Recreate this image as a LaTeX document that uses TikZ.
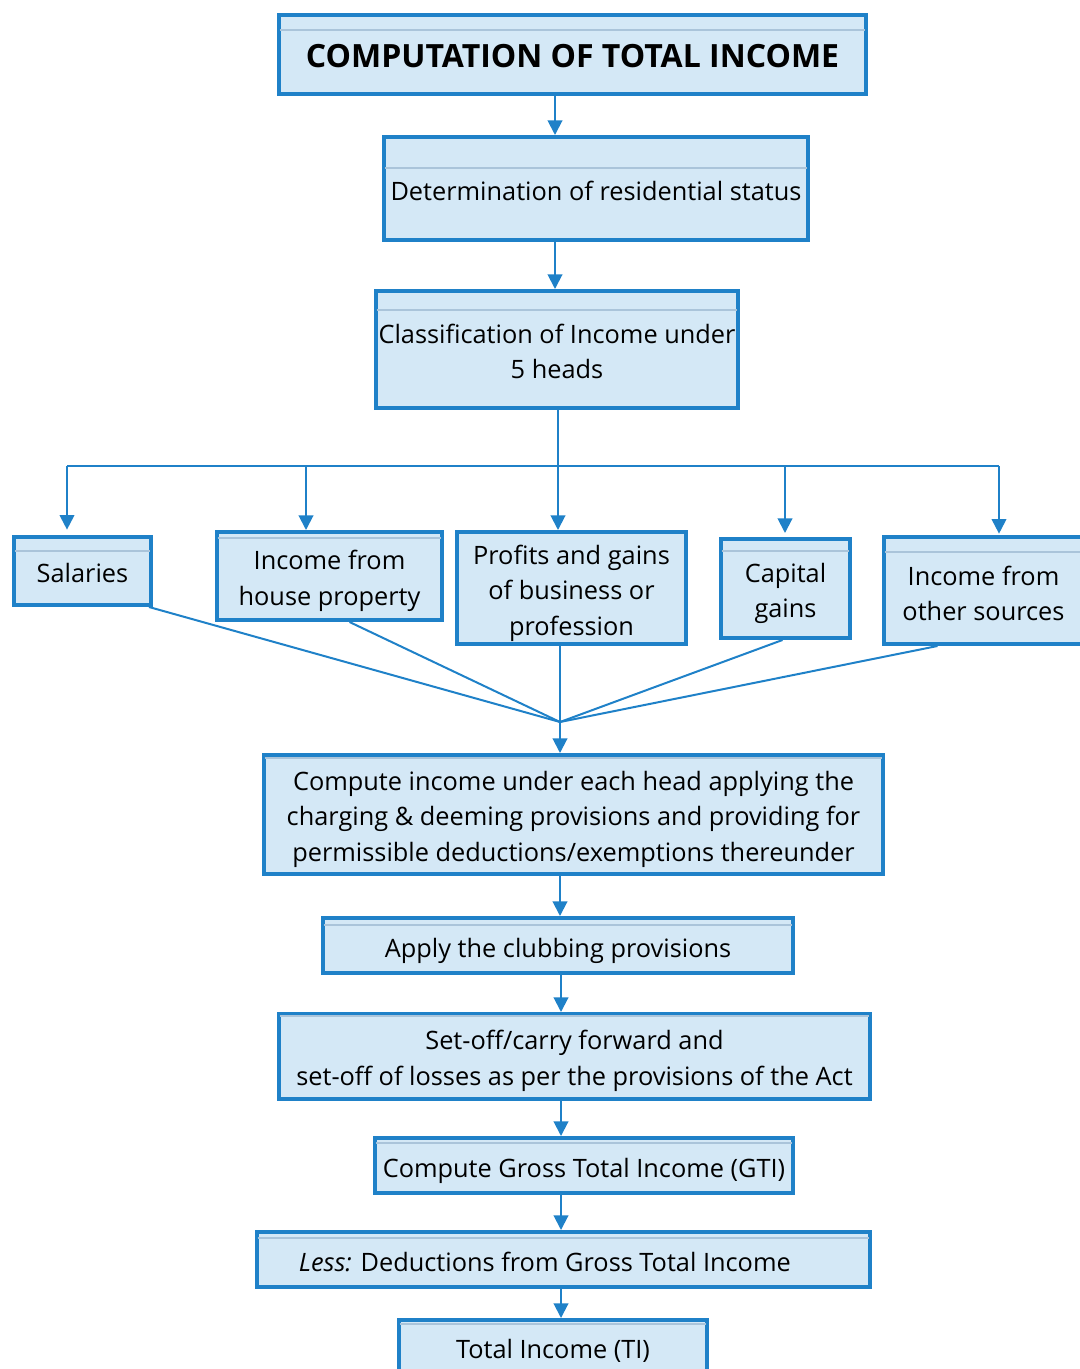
\documentclass[tikz,border=0pt]{standalone}
\usepackage{fontspec}
\setmainfont{Open Sans}
\usetikzlibrary{arrows.meta,calc}
\definecolor{bd}{RGB}{31,129,200}
\definecolor{fl}{RGB}{212,232,246}
\definecolor{il}{RGB}{170,196,218}
\newcommand\inl[2]{\draw[il,line width=0.8pt] ([xshift=2pt,yshift=-#2*0.75pt]#1.north west) -- ([xshift=-2pt,yshift=-#2*0.75pt]#1.north east);}
\begin{document}
\begin{tikzpicture}[x=0.75pt,y=-0.75pt,
 box/.style 2 args={draw=bd, fill=fl, line width=3pt, minimum width=#1*0.75pt, minimum height=#2*0.75pt, inner sep=0pt},
 txt/.style={align=center, inner sep=0pt, font=\fontsize{19}{26.6}\selectfont},
 arr/.style={draw=bd, line width=1.5pt, -{Triangle[width=11pt,length=11pt]}},
 ln/.style={draw=bd, line width=1.5pt}]
\useasboundingbox (0,0) rectangle (1079,1369);
\node[box={587}{79}, label={[txt,font=\fontsize{24}{28}\selectfont\bfseries,yshift=-1.5pt]center:COMPUTATION OF TOTAL INCOME}] (t) at (572.5,54.5) {};
\node[box={424}{103}, label={[txt,yshift=-1.5pt]center:Determination of residential status}] (d) at (596,188.5) {};
\node[box={362}{117}, label={[txt,yshift=-1.5pt]center:{Classification of Income under\\5 heads}}] (c) at (557,349.5) {};
\node[box={137}{68}, label={[txt,yshift=-1.5pt]center:Salaries}] (s1) at (82.5,571) {};
\node[box={225}{88}, label={[txt,yshift=-3.8pt]center:{Income from\\house property}}] (s2) at (329.5,576) {};
\node[box={229}{112}, label={[txt,yshift=-3.8pt]center:{Profits and gains\\of business or\\profession}}] (s3) at (571.5,588) {};
\node[box={129}{99}, label={[txt,yshift=-3.8pt]center:{Capital\\gains}}] (s4) at (785.5,588.5) {};
\node[box={199}{107}, label={[txt,yshift=-2.2pt]center:{Income from\\other sources}}] (s5) at (983.5,590.5) {};
\node[box={619}{119}, label={[txt,yshift=-3.4pt]center:{Compute income under each head applying the\\charging \& deeming provisions and providing for\\permissible deductions/exemptions thereunder}}] (ci) at (573.5,814.5) {};
\node[box={470}{55}, label={[txt,yshift=-3.8pt]center:Apply the clubbing provisions}] (cl) at (558,945.5) {};
\node[box={591}{85}, label={[txt,yshift=-3.4pt]center:{Set-off/carry forward and\\set-off of losses as per the provisions of the Act}}] (so) at (574.5,1056.5) {};
\node[box={418}{55}, label={[txt,yshift=-3.8pt]center:Compute Gross Total Income (GTI)}] (g) at (584,1165.5) {};
\node[box={613}{55}, label={[txt,yshift=-1.5pt,xshift=-14pt]center:{\textit{Less:} Deductions from Gross Total Income}}] (l) at (563.5,1259.5) {};
\node[box={308}{60}, label={[txt,yshift=-0.8pt]center:Total Income (TI)}] (ti) at (553,1350) {};
\inl{t}{17}\inl{d}{33}\inl{c}{21}\inl{s1}{16}\inl{s2}{8}\inl{s4}{14}\inl{s5}{17}
\inl{ci}{5}\inl{cl}{9}\inl{so}{4}\inl{g}{7}\inl{l}{8}\inl{ti}{6}
\coordinate (a1) at (555,0);
\coordinate (a2) at (561,0);
\coordinate (b) at (558,466);
\coordinate (bl) at (67,466);
\coordinate (b2) at (306,466);
\coordinate (b4) at (785,466);
\coordinate (br) at (999,466);
\coordinate (j) at (560,722);
\draw[arr] (t.south -| a1) -- (d.north -| a1);
\draw[arr] (d.south -| a1) -- (c.north -| a1);
\draw[ln] (c.south -| b) -- (b);
\draw[ln] (bl) -- (br);
\draw[arr] (bl) -- ([yshift=4pt]s1.north -| bl);
\draw[arr] (b2) -- (s2.north -| b2);
\draw[arr] (b) -- (s3.north -| b);
\draw[arr] (b4) -- ([yshift=3pt]s4.north -| b4);
\draw[arr] (br) -- ([yshift=1pt]s5.north -| br);
\draw[ln] ($(s1.south east)+(-4,0)$) -- (j);
\draw[ln] ($(s2.south)+(20,0)$) -- (j);
\draw[ln] (s3.south -| j) -- (j);
\draw[ln] ($(s4.south)+(-3,0)$) -- (j);
\draw[ln] ($(s5.south)+(-46,0)$) -- (j);
\draw[arr] (j) -- (ci.north -| j);
\draw[arr] (ci.south -| j) -- (cl.north -| j);
\draw[arr] (cl.south -| a2) -- (so.north -| a2);
\draw[arr] (so.south -| a2) -- (g.north -| a2);
\draw[arr] (g.south -| a2) -- (l.north -| a2);
\draw[arr] (l.south -| a2) -- (ti.north -| a2);
\end{tikzpicture}
\end{document}
